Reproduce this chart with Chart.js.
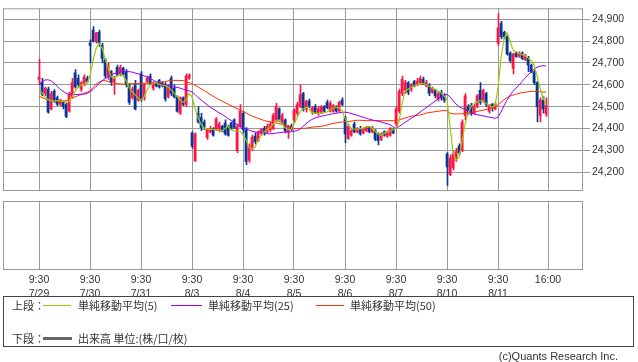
<!DOCTYPE html>
<html>
<head>
<meta charset="utf-8">
<script src="https://cdn.jsdelivr.net/npm/chart.js@4.4.1/dist/chart.umd.min.js"></script>
<style>
body{margin:0;background:#fff;}
#wrap{position:relative;width:638px;height:362px;overflow:hidden;font-family:"Noto Sans CJK JP","Liberation Sans",sans-serif;color:#333;}
#main{position:absolute;left:0;top:0;}
#sub{position:absolute;left:0;top:200px;}
.t{position:absolute;font-size:11px;line-height:14px;white-space:nowrap;}
.ln{position:absolute;height:1px;}
#box{position:absolute;left:3px;top:296px;width:629px;height:49px;border:1px solid #444;}
</style>
</head>
<body>
<div id="wrap">
<canvas id="main" width="638" height="200"></canvas>
<canvas id="sub" width="638" height="110"></canvas>
<div id="box"></div>
<div class="t" style="left:12px;top:298px">上段：</div>
<div class="ln" style="left:43px;top:305px;width:28px;background:#99cc00"></div>
<div class="t" style="left:78px;top:298px">単純移動平均(5)</div>
<div class="ln" style="left:171px;top:305px;width:31px;background:#9900ff"></div>
<div class="t" style="left:208px;top:298px">単純移動平均(25)</div>
<div class="ln" style="left:316px;top:305px;width:28px;background:#ff3300"></div>
<div class="t" style="left:350px;top:298px">単純移動平均(50)</div>
<div class="t" style="left:12px;top:331px">下段：</div>
<div style="position:absolute;left:43px;top:337px;width:29px;height:3px;background:#666"></div>
<div class="t" style="left:78px;top:331px">出来高 単位:(株/口/枚)</div>
<div class="t" style="right:20px;top:349px;font-family:'Liberation Sans',sans-serif;font-size:11px">(c)Quants Research Inc.</div>
</div>
<script>
// 15 min bars, 17 per session
const days=['7/29','7/30','7/31','8/3','8/4','8/5','8/6','8/7','8/10','8/11']
const perDay=17
const openTime='9:30'
const closeTime='16:00'
const yTicks=[24200,24300,24400,24500,24600,24700,24800,24900]

const openP=[
24625,24614,24560,24580,24490,24570,24540,24512,24520,24510,24480,24545,24655,24630,24580,24600,24630,
24790,24850,24800,24840,24780,24715,24640,24660,24615,24680,24645,24675,24660,24600,24540,24600,24530,
24650,24540,24615,24640,24585,24605,24620,24610,24600,24545,24630,24585,24545,24470,24540,24510,24630,
24380,24252,24470,24450,24430,24360,24385,24400,24395,24400,24410,24425,24410,24425,24440,24300,24410,
24470,24395,24255,24310,24365,24345,24380,24400,24385,24395,24400,24440,24490,24430,24440,24385,24410,
24440,24470,24500,24560,24490,24525,24475,24500,24470,24475,24500,24520,24480,24480,24500,24480,24530,
24450,24355,24370,24420,24385,24400,24380,24390,24405,24385,24390,24375,24350,24385,24365,24370,24395,
24420,24480,24560,24575,24610,24580,24615,24600,24605,24625,24595,24600,24565,24575,24535,24565,24550,
24285,24190,24220,24255,24320,24300,24460,24500,24505,24470,24500,24575,24530,24560,24480,24510,24490,
24790,24880,24840,24820,24745,24675,24745,24730,24745,24715,24725,24690,24660,24610,24460,24530,24467]
const highP=[
24716,24630,24590,24590,24570,24578,24548,24535,24525,24515,24565,24630,24670,24645,24615,24645,24640,
24805,24866,24840,24850,24790,24720,24700,24665,24640,24690,24690,24680,24670,24605,24590,24620,24580,
24660,24605,24640,24650,24615,24610,24625,24615,24610,24600,24640,24600,24550,24545,24545,24650,24650,
24385,24380,24500,24470,24440,24400,24410,24405,24450,24430,24415,24440,24415,24430,24445,24420,24510,
24480,24405,24330,24370,24380,24390,24400,24410,24420,24430,24470,24515,24495,24470,24445,24415,24420,
24490,24520,24600,24565,24530,24535,24500,24510,24500,24505,24505,24530,24525,24510,24505,24525,24540,
24455,24420,24395,24430,24405,24410,24400,24410,24410,24410,24395,24380,24380,24390,24390,24405,24400,
24500,24580,24640,24620,24615,24605,24620,24630,24640,24635,24620,24605,24590,24580,24570,24575,24560,
24290,24280,24300,24310,24330,24440,24560,24510,24515,24510,24555,24610,24580,24565,24510,24515,24520,
24925,24890,24845,24825,24750,24745,24750,24750,24750,24740,24730,24695,24665,24615,24540,24545,24540]
const lowP=[
24600,24550,24550,24470,24485,24520,24505,24505,24490,24450,24475,24540,24585,24590,24570,24595,24610,
24700,24795,24790,24775,24700,24630,24625,24597,24556,24640,24640,24645,24590,24510,24535,24485,24525,
24525,24530,24610,24600,24575,24590,24585,24590,24525,24540,24550,24540,24475,24465,24505,24500,24625,
24310,24250,24425,24390,24395,24350,24380,24365,24390,24385,24385,24370,24365,24395,24400,24290,24405,
24380,24235,24245,24300,24330,24340,24370,24370,24380,24385,24395,24430,24430,24420,24380,24355,24390,
24430,24460,24495,24480,24475,24495,24465,24470,24460,24470,24475,24490,24475,24475,24475,24475,24505,
24335,24350,24365,24380,24380,24370,24375,24385,24380,24380,24345,24325,24345,24365,24360,24365,24375,
24405,24470,24550,24560,24555,24570,24590,24595,24600,24600,24590,24550,24560,24540,24525,24530,24520,
24140,24185,24210,24250,24280,24295,24440,24465,24460,24465,24495,24510,24520,24500,24470,24480,24485,
24780,24810,24810,24735,24700,24650,24725,24725,24715,24710,24660,24655,24600,24430,24430,24470,24455]
const closeP=[
24635,24556,24585,24475,24560,24527,24512,24530,24500,24455,24556,24610,24590,24600,24610,24635,24615,
24780,24800,24837,24790,24720,24640,24690,24610,24630,24645,24680,24650,24600,24520,24580,24490,24575,
24530,24600,24630,24605,24610,24595,24590,24595,24535,24590,24560,24545,24480,24540,24510,24640,24645,
24320,24375,24430,24405,24410,24395,24400,24370,24445,24420,24395,24375,24370,24400,24405,24410,24480,
24395,24250,24315,24360,24340,24385,24395,24380,24410,24420,24460,24500,24440,24460,24390,24410,24395,
24485,24510,24555,24490,24525,24505,24495,24475,24490,24500,24480,24495,24515,24505,24480,24520,24510,
24375,24410,24390,24385,24400,24375,24395,24405,24385,24400,24350,24345,24375,24370,24385,24400,24380,
24490,24570,24625,24610,24565,24600,24595,24615,24630,24605,24610,24560,24585,24550,24560,24540,24530,
24225,24265,24285,24295,24290,24430,24550,24470,24470,24500,24550,24520,24575,24510,24505,24495,24510,
24860,24820,24820,24740,24710,24740,24730,24745,24720,24735,24690,24660,24610,24500,24530,24490,24505]

const ma5=[
24578,24563,24545,24532,24528,24527,24527,24527,24524,24520,24525,24545,24570,24588,24598,24603,24607,
24640,24710,24765,24790,24770,24720,24680,24636,24630,24640,24648,24640,24620,24590,24568,24555,24540,
24530,24545,24575,24598,24606,24610,24602,24598,24596,24590,24578,24562,24548,24530,24520,24530,24560,
24545,24495,24450,24420,24402,24398,24396,24396,24394,24390,24390,24400,24410,24395,24389,24389,24389,
24370,24350,24312,24309,24316,24345,24368,24385,24395,24405,24420,24432,24440,24420,24405,24396,24396,
24420,24450,24476,24490,24498,24488,24475,24469,24469,24469,24472,24476,24485,24493,24498,24494,24483,
24447,24420,24402,24398,24396,24400,24403,24407,24410,24400,24389,24375,24368,24378,24385,24389,24394,
24400,24432,24512,24570,24580,24588,24595,24600,24605,24607,24600,24594,24585,24578,24570,24563,24548,
24534,24410,24294,24255,24270,24340,24420,24470,24500,24515,24522,24527,24527,24515,24505,24498,24505,
24585,24720,24810,24839,24800,24759,24750,24743,24738,24732,24723,24710,24690,24643,24585,24541,24512]
const ma25=[
24600,24612,24622,24623,24618,24608,24594,24580,24570,24562,24556,24555,24555,24556,24557,24558,24560,
24568,24578,24592,24605,24618,24628,24637,24645,24651,24655,24659,24662,24661,24660,24658,24654,24650,
24647,24641,24635,24630,24622,24615,24607,24602,24598,24595,24593,24590,24588,24585,24580,24576,24572,
24568,24556,24542,24531,24520,24509,24498,24490,24481,24472,24465,24456,24446,24437,24428,24419,24411,
24404,24398,24393,24388,24385,24382,24380,24378,24377,24376,24377,24379,24381,24383,24384,24384,24385,
24388,24390,24398,24410,24422,24433,24442,24448,24452,24456,24459,24462,24465,24468,24470,24472,24474,
24475,24473,24469,24465,24461,24456,24452,24448,24443,24440,24436,24434,24430,24426,24422,24418,24408,
24400,24410,24418,24428,24437,24446,24455,24465,24475,24485,24495,24505,24515,24525,24535,24545,24553,
24556,24545,24528,24512,24500,24493,24486,24481,24474,24468,24463,24461,24458,24455,24452,24450,24447,
24452,24475,24505,24530,24552,24570,24585,24598,24615,24630,24645,24658,24672,24680,24685,24687,24686]
const ma50=[
24548,24542,24536,24532,24529,24527,24526,24526,24526,24527,24531,24538,24545,24550,24555,24561,24566,
24572,24588,24603,24612,24618,24619,24615,24611,24608,24605,24604,24603,24603,24604,24605,24605,24606,
24606,24607,24607,24608,24608,24609,24611,24612,24614,24618,24620,24620,24620,24620,24619,24615,24610,
24606,24598,24590,24582,24574,24565,24556,24548,24540,24532,24526,24518,24512,24505,24498,24491,24485,
24478,24471,24464,24457,24452,24447,24442,24437,24433,24431,24429,24426,24422,24419,24415,24412,24405,
24400,24400,24399,24401,24402,24404,24406,24408,24409,24410,24413,24416,24420,24423,24426,24428,24430,
24431,24432,24434,24436,24438,24438,24437,24436,24436,24436,24436,24436,24436,24436,24436,24436,24436,
24437,24440,24444,24448,24452,24456,24458,24460,24462,24466,24470,24473,24475,24477,24479,24481,24482,
24482,24470,24467,24467,24467,24468,24469,24470,24472,24475,24478,24481,24484,24487,24490,24495,24500,
24508,24520,24532,24541,24548,24553,24557,24561,24564,24566,24568,24570,24570,24569,24568,24567,24567]

const UP='#ff1447'
const DOWN='#0a3596'
const GRID='#999999'
const xMin=-12
const xMax=-12+580/3

let wicks=[], bodies=[], l5=[], l25=[], l50=[]
for(let i=0;i<closeP.length;i++){
    wicks.push({x:i+1/6,y:[lowP[i],highP[i]]})
    bodies.push({x:i,y:[openP[i],closeP[i]]})
    l5.push({x:i,y:ma5[i]})
    l25.push({x:i,y:ma25[i]})
    l50.push({x:i,y:ma50[i]})
}
let dayPos=days.map((d,i)=>i*perDay)
dayPos.push(days.length*perDay-1/3)

function candleColor(ctx){
    let i=ctx.dataIndex
    return closeP[i]>=openP[i]?UP:DOWN
}
const boxPlugin={
    id:'box',
    beforeDatasetsDraw(chart){
        const a=chart.chartArea, c=chart.ctx
        c.save()
        c.strokeStyle=GRID
        c.lineWidth=1
        c.strokeRect(a.left+0.5,a.top+0.5,a.right-a.left-1,a.bottom-a.top-1)
        c.restore()
    }
}
const tickFont={family:'Liberation Sans',size:10.5}

const config1={
    type:'bar',
    data:{datasets:[
        {type:'line',data:l5,borderColor:'#99cc00',borderWidth:1.2,pointRadius:0,order:1},
        {type:'line',data:l25,borderColor:'#9900ff',borderWidth:1,pointRadius:0,order:2},
        {type:'line',data:l50,borderColor:'#ff3300',borderWidth:1,pointRadius:0,order:3},
        {data:bodies,backgroundColor:candleColor,barThickness:2,minBarLength:1,grouped:false,order:4},
        {data:wicks,backgroundColor:candleColor,barThickness:1,grouped:false,order:5}
    ]},
    options:{
        responsive:false,animation:false,
        layout:{padding:{left:3,top:0,right:0,bottom:9}},
        plugins:{legend:{display:false},tooltip:{enabled:false}},
        scales:{
            x:{type:'linear',min:xMin,max:xMax,offset:false,
               grid:{color:GRID,drawTicks:false,offset:false},border:{display:false},
               ticks:{display:false},
               afterBuildTicks:s=>{s.ticks=dayPos.map(v=>({value:v}))},
               afterFit:s=>{s.height=0}},
            y:{position:'right',min:24114.8,max:24949.4,beginAtZero:false,
               grid:{color:GRID,tickLength:7},border:{display:false},
               ticks:{color:'#333',font:tickFont,padding:2,callback:v=>v.toLocaleString('en-US')},
               afterBuildTicks:s=>{s.ticks=yTicks.map(v=>({value:v}))},
               afterFit:s=>{s.width=55}}
        }
    },
    plugins:[boxPlugin]
}
const config2={
    type:'line',
    data:{datasets:[]},
    options:{
        responsive:false,animation:false,
        layout:{padding:{left:3,top:1,right:55,bottom:0}},
        plugins:{legend:{display:false},tooltip:{enabled:false}},
        scales:{
            x:{type:'linear',min:xMin,max:xMax,
               grid:{color:GRID,drawTicks:false},border:{display:false},
               ticks:{color:'#333',font:{family:'Liberation Sans',size:10.5,lineHeight:1.35},padding:3,maxRotation:0,autoSkip:false,
                      callback:(v,i)=>i<days.length?[openTime,days[i]]:closeTime},
               afterBuildTicks:s=>{s.ticks=dayPos.map(v=>({value:v}))},
               afterFit:s=>{s.height=40}},
            y:{display:false,min:0,max:1}
        }
    },
    plugins:[boxPlugin]
}

var mainChart=new Chart('main',config1)
var subChart=new Chart('sub',config2)
</script>
</body>
</html>
